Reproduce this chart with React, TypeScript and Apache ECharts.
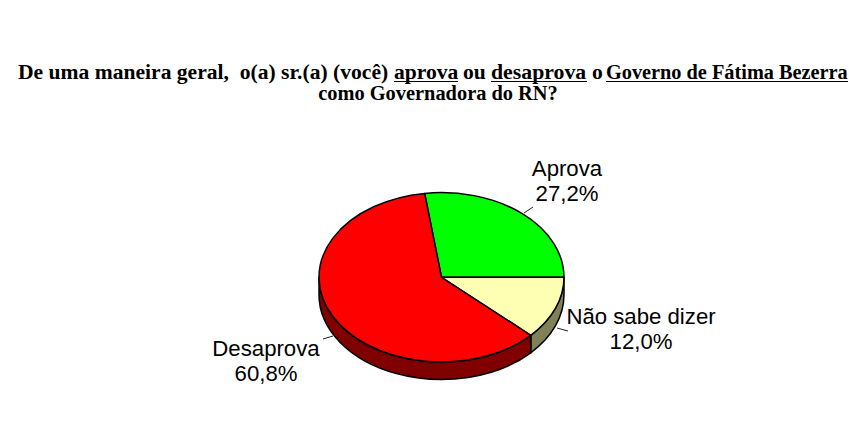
import React, { useEffect, useRef } from "react";
import * as echarts from "echarts";

const categories = ["Aprova", "Não sabe dizer", "Desaprova"];
const shares = [27.2, 12.0, 60.8];
const topColors = ["#00FF00", "#FFFFB3", "#FF0000"];
const sideColors = ["#008000", "#808059", "#800000"];
const labelCenters = [[567, 181], [641, 329], [266, 361]];
const leaders = [
  [[524, 213], [533, 207]],
  [[557, 328], [568, 331]],
  [[323, 339], [333, 336]],
];
const titleSegments = [
  { text: "De uma maneira geral,  o(a) sr.(a) (você)", x: 18, underline: 0, stretch: 1.08 },
  { text: "aprova", x: 394, underline: 64, stretch: 1.08 },
  { text: "ou", x: 463, underline: 0, stretch: 1.08 },
  { text: "desaprova", x: 491, underline: 96, stretch: 1.09 },
  { text: "o", x: 592, underline: 0, stretch: 1.08 },
  { text: "Governo de Fátima Bezerra", x: 606, underline: 242, stretch: 1.015 },
];
const titleLine2 = "como Governadora do RN?";

const cx = 441.5;
const cy = 277.3;
const rx = 122.5;
const ry = 84.7;
const depth = 17.5;
const startDeg = 90 - (shares[0] * 360) / 100;
const titleFont = "'Liberation Serif', serif";

const pt = (deg: number, dy = 0) => {
  const t = (deg * Math.PI) / 180;
  return [cx + rx * Math.sin(t), cy - ry * Math.cos(t) + dy];
};

const range = (i: number) => {
  const total = shares.reduce((s, v) => s + v, 0);
  const before = shares.slice(0, i).reduce((s, v) => s + v, 0);
  return [
    startDeg + (before / total) * 360,
    startDeg + ((before + shares[i]) / total) * 360,
  ];
};

const renderTop = (params: any) => {
  const i = params.dataIndex;
  const [a, b] = range(i);
  const p = pt(a);
  const q = pt(b);
  const large = b - a > 180 ? 1 : 0;
  const d = `M${cx} ${cy}L${p[0]} ${p[1]}A${rx} ${ry} 0 ${large} 1 ${q[0]} ${q[1]}Z`;
  const value = shares[i].toFixed(1).replace(".", ",") + "%";
  return {
    type: "group",
    children: [
      {
        type: "path",
        shape: { pathData: d },
        style: { fill: topColors[i], stroke: "#000", lineWidth: 1.5, lineJoin: "round" },
      },
      {
        type: "line",
        shape: { x1: leaders[i][0][0], y1: leaders[i][0][1], x2: leaders[i][1][0], y2: leaders[i][1][1] },
        style: { stroke: "#222", lineWidth: 1 },
      },
      {
        type: "text",
        x: labelCenters[i][0],
        y: labelCenters[i][1],
        style: {
          text: `${categories[i]}\n${value}`,
          fill: "#000",
          font: "22.2px 'Liberation Sans', Arial, sans-serif",
          lineHeight: 25,
          align: "center",
          verticalAlign: "middle",
        },
      },
    ],
  };
};

const renderSide = (params: any) => {
  const i = params.dataIndex;
  const [a0, b0] = range(i);
  const a = Math.max(a0, 90);
  const b = Math.min(b0, 270);
  if (b <= a) return { type: "group", children: [] };
  const p = pt(a);
  const q = pt(b);
  const r = pt(b, depth);
  const s = pt(a, depth);
  const d = `M${p[0]} ${p[1]}A${rx} ${ry} 0 0 1 ${q[0]} ${q[1]}L${r[0]} ${r[1]}A${rx} ${ry} 0 0 0 ${s[0]} ${s[1]}Z`;
  return {
    type: "path",
    shape: { pathData: d },
    style: { fill: sideColors[i], stroke: "#000", lineWidth: 1.5, lineJoin: "round" },
  };
};

export default function App() {
  const ref = useRef<HTMLDivElement>(null);
  useEffect(() => {
    document.body.style.margin = "0";
    document.body.style.background = "#fff";
    const chart = echarts.init(ref.current!, null, { renderer: "svg" });
    const titleFontSpec = `bold 20px ${titleFont}`;
    const graphicEls: any[] = [];
    titleSegments.forEach((seg) => {
      graphicEls.push({
        type: "text",
        x: seg.x,
        y: 72,
        scaleX: seg.stretch,
        style: { text: seg.text, fill: "#000", font: titleFontSpec, align: "left", verticalAlign: "middle" },
      });
      if (seg.underline) {
        graphicEls.push({
          type: "line",
          shape: { x1: seg.x, y1: 81.5, x2: seg.x + seg.underline, y2: 81.5 },
          style: { stroke: "#000", lineWidth: 1.2 },
        });
      }
    });
    graphicEls.push({
      type: "text",
      x: 438,
      y: 93,
      scaleX: 1.02,
      style: { text: titleLine2, fill: "#000", font: titleFontSpec, align: "center", verticalAlign: "middle" },
    });
    chart.setOption({
      animation: false,
      backgroundColor: "#fff",
      graphic: { elements: graphicEls },
      series: [
        {
          type: "custom",
          coordinateSystem: "none",
          silent: true,
          renderItem: renderSide,
          data: categories.map((name, i) => ({ name, value: shares[i] })),
        },
        {
          type: "custom",
          coordinateSystem: "none",
          silent: true,
          renderItem: renderTop,
          data: categories.map((name, i) => ({ name, value: shares[i] })),
        },
      ],
    });
    return () => chart.dispose();
  }, []);
  return <div ref={ref} style={{ width: 849, height: 440 }} />;
}
